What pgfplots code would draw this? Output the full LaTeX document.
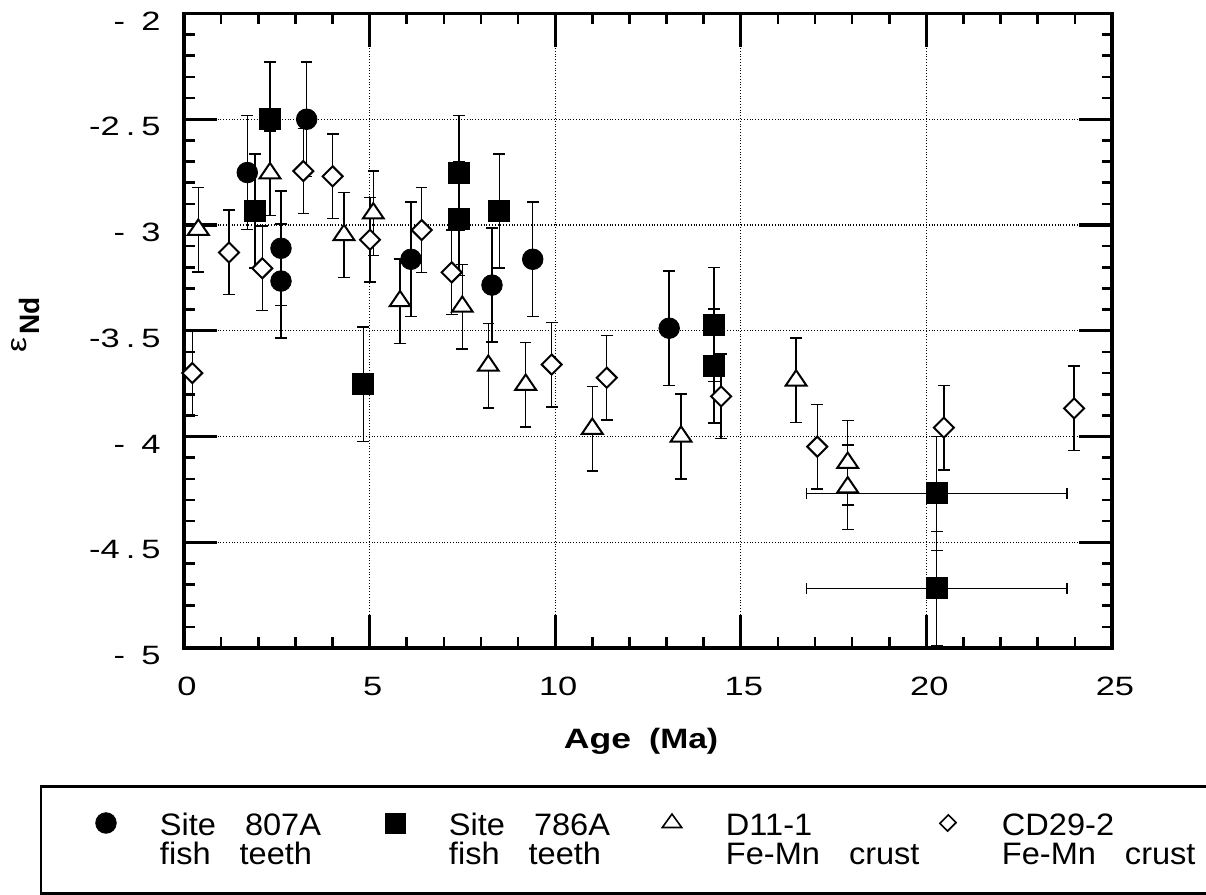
\documentclass[border=0pt]{standalone}
\usepackage{pgfplots}
\pgfplotsset{compat=1.18}
\usepackage{graphicx}
\usepackage{fontspec}
\setmainfont{Liberation Sans}
\newfontfamily\tickfont{Liberation Sans}[FakeStretch=1.3]
\newfontfamily\labfont{Liberation Sans}[FakeStretch=1.2]
\newfontfamily\legfont{Liberation Sans}[FakeStretch=1.05]
\newcommand{\lt}[2]{\makebox[#1][l]{\legfont\fontsize{15.5pt}{15.8pt}\selectfont\rule[-4.4pt]{0pt}{15.8pt}#2}}
\newcommand{\hl}[1]{-#1\hspace{3pt}.\hspace{3pt}5\hspace{2.75pt}}
\newcommand{\il}[1]{-\hspace{8.2pt}#1}
\pgfplotsset{
  eb/.style={error bars/.cd, y dir=both, y explicit,
    error bar style={line width=0.7pt, black},
    error mark options={rotate=90, mark size=2.9pt, line width=0.7pt, black}},
  ebx/.style={error bars/.cd, y dir=both, y explicit, x dir=both, x explicit,
    error bar style={line width=0.7pt, black},
    error mark options={rotate=90, mark size=2.9pt, line width=0.7pt, black}},
}
\begin{document}
\begin{tikzpicture}
\begin{axis}[
  at={(92pt,123.5pt)}, anchor=south west,
  scale only axis, width=464pt, height=317.25pt,
  xmin=0, xmax=25, ymin=-5, ymax=-2,
  xtick={0,5,10,15,20,25},
  xticklabels={0,5,10,15,20,25},
  ytick={-5,-4.5,-4,-3.5,-3,-2.5,-2},
  yticklabels={\il{5},\hl{4},\il{4},\hl{3},\il{3},\hl{2},\il{2}},
  minor x tick num=4, minor y tick num=4,
  tick align=inside, xtick pos=both, ytick pos=both,
  major tick length=16.5pt, minor tick length=5.25pt,
  major tick style={line width=1.6pt, black},
  minor tick style={line width=1.3pt, black},
  axis line style={line width=1.6pt},
  grid=major,
  major grid style={densely dotted, line width=0.6pt, black},
  xticklabel style={font=\tickfont\fontsize{13.25pt}{15pt}\selectfont, anchor=north, inner sep=0pt, yshift=-14.35pt, xshift=1.5pt},
  yticklabel style={font=\tickfont\fontsize{13.25pt}{15pt}\selectfont, anchor=east, inner sep=0pt, xshift=-11.5pt, yshift=-3.75pt},
  xlabel={\fontsize{14pt}{16pt}\selectfont\bfseries\scalebox{1.27}[1]{Age}\hspace{9pt}\scalebox{1.2}[1]{(Ma)}},
  xlabel style={at={(axis description cs:0.4925,-0.1581)}, anchor=base, inner sep=0pt},
  ylabel={\fontsize{14pt}{16pt}\selectfont{\labfont ε}\hspace{1.5pt}\raisebox{-6.65pt}{\bfseries Nd}},
  ylabel style={at={(axis description cs:-0.1704,0.5092)}, anchor=center, inner sep=0pt},
  legend columns=4, legend cell align=left,
  legend style={at={(axis description cs:-0.10560,-0.25516)}, anchor=north west, draw=none, fill=none, inner sep=0pt, outer sep=0pt, row sep=0pt, column sep=0pt, nodes={inner sep=0pt, outer sep=0pt}},
  legend image code/.code={
    \path[draw=none, fill=none] (-10pt,-7.9pt) rectangle (27pt,7.9pt);
    \draw[#1] plot coordinates {(0pt,1.35pt)};
  },
]
% Site 807A fish teeth
\addplot[forget plot, only marks, mark=*, mark size=5.15pt, black, eb] coordinates {
 (1.705,-2.752) +- (0,0.27)
 (2.613,-3.110) +- (0,0.27)
 (2.613,-3.265) +- (0,0.27)
 (3.305,-2.500) +- (0,0.27)
 (6.115,-3.162) +- (0,0.27)
 (8.297,-3.284) +- (0,0.27)
 (9.394,-3.162) +- (0,0.27)
 (13.07,-3.488) +- (0,0.27)
};
% Site 786A fish teeth
\addplot[forget plot, only marks, mark=square*, mark size=5.25pt, black, eb] coordinates {
 (1.913,-2.934) +- (0,0.27)
 (2.317,-2.500) +- (0,0.27)
 (4.830,-3.753) +- (0,0.27)
 (7.408,-2.753) +- (0,0.27)
 (7.408,-2.970) +- (0,0.27)
 (8.494,-2.934) +- (0,0.27)
 (14.28,-3.470) +- (0,0.27)
 (14.28,-3.667) +- (0,0.27)
};
\addplot[forget plot, only marks, mark=square*, mark size=5.25pt, black, ebx] coordinates {
 (20.28,-4.269) +- (3.51,0.27)
 (20.28,-4.718) +- (3.51,0.27)
};
% D11-1 Fe-Mn crust
\addplot[forget plot, only marks, mark=triangle*, mark size=6pt, black, mark options={yscale=0.85, fill=white, line width=1pt}, eb] coordinates {
 (0.385,-3.022) +- (0,0.2)
 (2.317,-2.755) +- (0,0.2)
 (4.310,-3.047) +- (0,0.2)
 (5.100,-2.945) +- (0,0.2)
 (5.820,-3.360) +- (0,0.2)
 (7.497,-3.386) +- (0,0.2)
 (8.198,-3.665) +- (0,0.2)
 (9.205,-3.755) +- (0,0.2)
 (11.00,-3.963) +- (0,0.2)
 (13.39,-4.000) +- (0,0.2)
 (16.49,-3.735) +- (0,0.2)
 (17.88,-4.124) +- (0,0.2)
 (17.88,-4.240) +- (0,0.2)
};
% CD29-2 Fe-Mn crust
\addplot[forget plot, only marks, mark=square*, mark size=3.54pt, black, mark options={rotate=45, fill=white, line width=1pt}, eb] coordinates {
 (0.224,-3.700) +- (0,0.2)
 (1.212,-3.130) +- (0,0.2)
 (2.109,-3.205) +- (0,0.2)
 (3.214,-2.745) +- (0,0.2)
 (4.006,-2.770) +- (0,0.2)
 (5.011,-3.070) +- (0,0.2)
 (6.403,-3.024) +- (0,0.2)
 (7.212,-3.224) +- (0,0.2)
 (9.906,-3.660) +- (0,0.2)
 (11.39,-3.722) +- (0,0.2)
 (14.47,-3.810) +- (0,0.2)
 (17.06,-4.048) +- (0,0.2)
 (20.47,-3.958) +- (0,0.2)
 (23.98,-3.867) +- (0,0.2)
};
\addlegendimage{only marks, mark=*, mark size=5.15pt, black}
\addlegendentry{\lt{107.5pt}{Site\hspace{14.5pt}807A}}
\addlegendimage{only marks, mark=square*, mark size=5pt, black}
\addlegendentry{\lt{101.5pt}{Site\hspace{14.5pt}786A}}
\addlegendimage{only marks, mark=triangle, mark size=5.6pt, black, mark options={yscale=0.8, line width=0.8pt}}
\addlegendentry{\lt{101pt}{D11-1}}
\addlegendimage{only marks, mark=square, mark size=3pt, black, mark options={rotate=45, yscale=0.9, line width=0.8pt}}
\addlegendentry{\lt{100pt}{CD29-2}}
\addlegendimage{empty legend}
\addlegendentry{\lt{107.5pt}{fish\hspace{14.5pt}teeth}}
\addlegendimage{empty legend}
\addlegendentry{\lt{101.5pt}{fish\hspace{14.5pt}teeth}}
\addlegendimage{empty legend}
\addlegendentry{\lt{101pt}{Fe-Mn\hspace{14.5pt}crust}}
\addlegendimage{empty legend}
\addlegendentry{\lt{100pt}{Fe-Mn\hspace{14.5pt}crust}}
\end{axis}
\draw[line width=1.3pt] (20.5pt,0.8pt) rectangle (620pt,54.15pt);
\pgfresetboundingbox
\useasboundingbox (0pt,0pt) rectangle (603pt,447.5pt);
\end{tikzpicture}
\end{document}
